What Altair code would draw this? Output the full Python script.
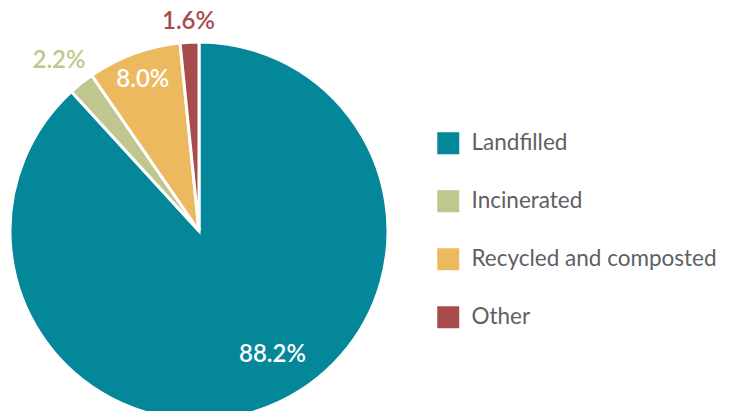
import altair as alt
import pandas as pd

categories = ["Landfilled", "Incinerated", "Recycled and composted", "Other"]
values = [88.2, 2.2, 8.0, 1.6]
labels = ["88.2%", "2.2%", "8.0%", "1.6%"]
colors = ["#05879a", "#bfc78f", "#ecb95f", "#a84b4b"]

df = pd.DataFrame({"category": categories, "value": values, "label": labels,
                   "order": list(range(len(categories)))})

FONT = "Lato"
CX, CY, R = 191, 223, 189

base = alt.Chart(df).encode(
    theta=alt.Theta("value:Q", stack=True),
    order=alt.Order("order:Q"),
)

pie = base.mark_arc(radius=R, stroke="white", strokeWidth=3).encode(
    color=alt.Color(
        "category:N",
        scale=alt.Scale(domain=categories, range=colors),
        sort=categories,
        legend=alt.Legend(
            title=None, orient="none", legendX=429, legendY=124,
            symbolType="square", symbolSize=484, symbolStrokeWidth=0,
            symbolOpacity=1,
            labelFont=FONT, labelFontSize=22.5, labelColor="#5f5f64",
            labelOffset=12, rowPadding=35, labelLimit=400,
        ),
    ),
    x=alt.value(CX), y=alt.value(CY),
)

def label_layer(name, radius, color, dx=0, dy=0):
    return base.mark_text(
        radius=radius, font=FONT, fontSize=24, fontWeight=600,
        color=color, dx=dx, dy=dy,
    ).encode(
        text=alt.condition(alt.datum.category == name, "label:N", alt.value("")),
        x=alt.value(CX), y=alt.value(CY),
    )

chart = alt.layer(
    pie,
    label_layer("Landfilled", 142, "white", dx=22, dy=-8),
    label_layer("Incinerated", 220, colors[1], dx=-3, dy=2),
    label_layer("Recycled and composted", 163, "white", dy=2),
    label_layer("Other", 209, colors[3]),
).properties(
    width=718, height=403, padding=0,
    autosize=alt.AutoSizeParams(type="none"),
).configure_view(stroke=None)

chart.save("out.html", embed_options={"renderer": "svg", "actions": False})
